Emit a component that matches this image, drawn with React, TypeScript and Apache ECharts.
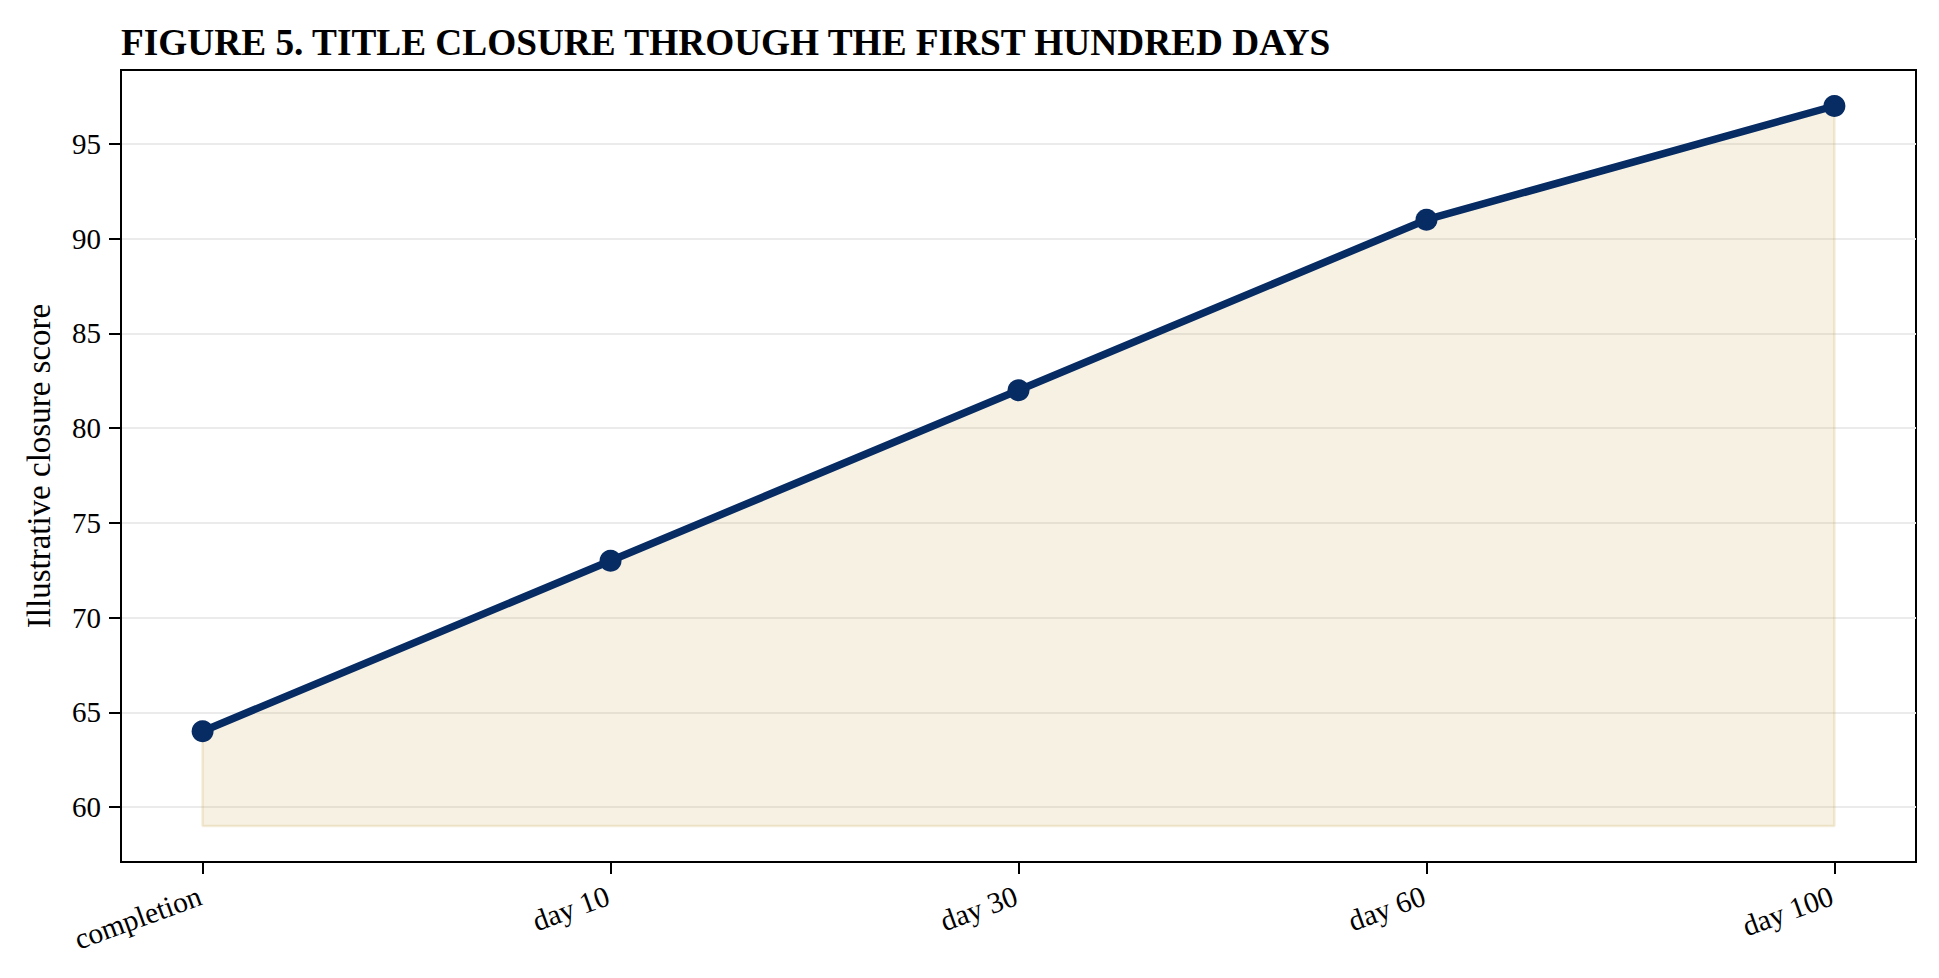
import React, { useEffect, useRef } from "react";
import * as echarts from "echarts";

const titleText = "FIGURE 5. TITLE CLOSURE THROUGH THE FIRST HUNDRED DAYS";
const yAxisName = "Illustrative closure score";
const categories = ["completion", "day 10", "day 30", "day 60", "day 100"];
const scores = [64, 73, 82, 91, 97];
const fillBase = 59;
const yTicks = [60, 65, 70, 75, 80, 85, 90, 95];
const xTicks = [0, 1, 2, 3, 4];

const FONT = "'Liberation Serif', 'Times New Roman', serif";

export default function App() {
  const ref = useRef<HTMLDivElement>(null);
  useEffect(() => {
    if (!ref.current) return;
    const chart = echarts.init(ref.current, null, { renderer: "svg" });
    const data = scores.map((v, i) => [i, v]);
    const last = scores.length - 1;
    const edge = [
      [0, scores[0]],
      [0, fillBase],
      [last, fillBase],
      [last, scores[last]],
    ];
    chart.setOption({
      animation: false,
      backgroundColor: "#ffffff",
      title: {
        text: titleText,
        left: 116,
        top: 19,
        textStyle: {
          fontFamily: FONT,
          fontWeight: "bold",
          fontSize: 37.3,
          color: "#000",
        },
      },
      grid: {
        left: 121,
        right: 23,
        top: 70,
        bottom: 116,
        show: true,
        borderColor: "#000",
        borderWidth: 2,
        backgroundColor: "transparent",
      },
      xAxis: {
        type: "value",
        min: -0.2,
        max: 4.2,
        axisLine: { show: true, onZero: false, lineStyle: { color: "#000", width: 2 } },
        axisTick: {
          show: true,
          customValues: xTicks,
          length: 12,
          lineStyle: { color: "#000", width: 2 },
        },
        axisLabel: {
          customValues: xTicks,
          formatter: (v: number) => categories[Math.round(v)] ?? "",
          rotate: 20,
          margin: 16,
          align: "right",
          verticalAlign: "top",
          padding: [0, 8, 0, 0],
          fontFamily: FONT,
          fontSize: 29.5,
          color: "#000",
        },
        splitLine: { show: false },
      },
      yAxis: {
        type: "value",
        min: 57.1,
        max: 98.9,
        name: yAxisName,
        nameLocation: "middle",
        nameGap: 66,
        nameRotate: 90,
        nameTextStyle: { fontFamily: FONT, fontSize: 33, color: "#000" },
        axisLine: { show: true, onZero: false, lineStyle: { color: "#000", width: 2 } },
        axisTick: {
          show: true,
          customValues: yTicks,
          length: 12,
          lineStyle: { color: "#000", width: 2 },
        },
        axisLabel: {
          customValues: yTicks,
          margin: 20,
          fontFamily: FONT,
          fontSize: 29,
          color: "#000",
        },
        splitLine: { show: true, lineStyle: { color: "#ebebeb", width: 2 } },
      },
      series: [
        {
          type: "line",
          data: edge,
          symbol: "none",
          silent: true,
          lineStyle: { color: "rgba(201,161,74,0.2)", width: 2.5 },
          z: 2,
        },
        {
          type: "line",
          data,
          symbol: "circle",
          symbolSize: 22,
          lineStyle: { color: "#072b63", width: 7.5 },
          itemStyle: { color: "#072b63" },
          areaStyle: { color: "rgba(201,161,74,0.22)", origin: fillBase },
          z: 3,
        },
      ],
    });
    return () => chart.dispose();
  }, []);
  return (
    <div
      ref={ref}
      style={{ position: "fixed", left: 0, top: 0, width: 1939, height: 978 }}
    />
  );
}
